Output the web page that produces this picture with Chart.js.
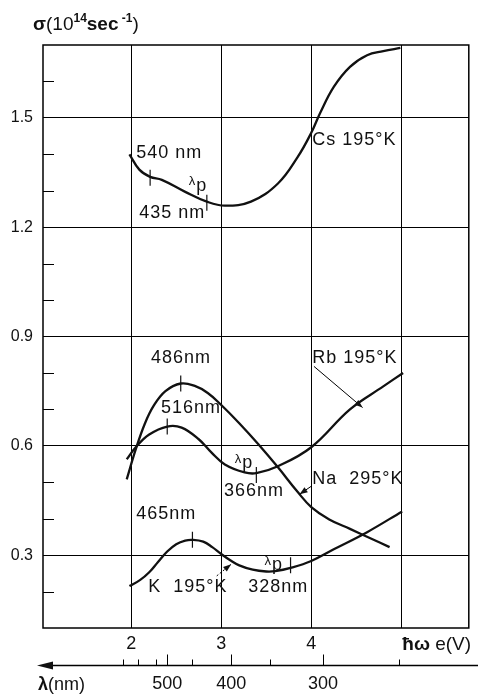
<!DOCTYPE html>
<html>
<head>
<meta charset="utf-8">
<script src="https://cdn.jsdelivr.net/npm/chart.js@4.4.0/dist/chart.umd.min.js"></script>
<style>
    html, body { margin: 0; padding: 0; background: #fff; }
    #wrap { width: 478px; height: 694px; }
</style>
</head>
<body>
<div id="wrap"><canvas id="sigmaChart" width="478" height="694"></canvas></div>
<script>
// photon energy (eV) against sigma (10^14 sec^-1)
const csEnergy = [1.98, 2.09, 2.21, 2.34, 2.60, 2.84, 3.04, 3.33, 3.63, 3.85, 4.00, 4.10, 4.25, 4.43, 4.62, 4.80, 4.99];
const csSigma  = [1.40, 1.358, 1.338, 1.33, 1.297, 1.27, 1.259, 1.27, 1.32, 1.393, 1.459, 1.514, 1.585, 1.64, 1.672, 1.683, 1.692];

const naEnergy = [1.95, 2.05, 2.15, 2.25, 2.38, 2.55, 2.70, 2.85, 3.00, 3.20, 3.41, 3.63, 3.85, 4.00, 4.20, 4.43, 4.65, 4.87];
const naSigma  = [0.508, 0.59, 0.66, 0.71, 0.75, 0.771, 0.765, 0.745, 0.712, 0.662, 0.605, 0.541, 0.473, 0.432, 0.398, 0.372, 0.347, 0.322];

const rbEnergy = [1.95, 2.05, 2.20, 2.40, 2.56, 2.75, 2.89, 3.04, 3.26, 3.39, 3.63, 4.00, 4.43, 4.80, 5.02];
const rbSigma  = [0.563, 0.596, 0.631, 0.653, 0.65, 0.618, 0.582, 0.549, 0.527, 0.525, 0.544, 0.596, 0.70, 0.763, 0.80];

const kEnergy = [1.98, 2.10, 2.20, 2.30, 2.40, 2.50, 2.60, 2.68, 2.80, 2.90, 3.00, 3.10, 3.20, 3.35, 3.50, 3.60, 3.77, 4.00, 4.25, 4.62, 5.01];
const kSigma  = [0.215, 0.232, 0.253, 0.282, 0.31, 0.33, 0.34, 0.342, 0.337, 0.322, 0.303, 0.286, 0.272, 0.26, 0.255, 0.256, 0.265, 0.284, 0.316, 0.363, 0.42];

// short vertical marks on the curves (peaks and lambda_p)
const markEnergy = [2.21, 2.84, 2.55, 2.40, 3.39, 2.68, 3.77];
const markSigma  = [1.336, 1.267, 0.771, 0.653, 0.52, 0.342, 0.272];

// axes
const energyTicks = [2, 3, 4, 5];
const sigmaTicks = [0.3, 0.6, 0.9, 1.2, 1.5];
const sigmaMinor = [0.2, 0.4, 0.5, 0.7, 0.8, 1.0, 1.1, 1.3, 1.4, 1.6];
const lambdaTickNm     = [650, 600, 550, 500, 450, 400, 350, 300, 250];
const lambdaTickEnergy = [1.91, 2.08, 2.27, 2.40, 2.68, 3.11, 3.54, 4.13, 4.97];
const lambdaLabels = [500, 400, 300];

const notes = [
    { text: '540 nm', x: 2.055, y: 1.404 },
    { text: '435 nm', x: 2.09, y: 1.24 },
    { text: 'Cs 195°K', x: 4.01, y: 1.44 },
    { text: '486nm', x: 2.22, y: 0.84 },
    { text: '516nm', x: 2.33, y: 0.705 },
    { text: 'Rb 195°K', x: 4.01, y: 0.842 },
    { text: 'Na  295°K', x: 4.01, y: 0.508 },
    { text: '366nm', x: 3.03, y: 0.475 },
    { text: '465nm', x: 2.055, y: 0.412 },
    { text: 'K  195°K', x: 2.19, y: 0.212 },
    { text: '328nm', x: 3.30, y: 0.212 }
];
const lambdaPNotes = [{ x: 2.64, y: 1.317 }, { x: 3.15, y: 0.555 }, { x: 3.48, y: 0.275 }];
const pointers = [
    { from: [4.03, 0.818], to: [4.57, 0.705], dash: [] },
    { from: [4.0, 0.489], to: [3.87, 0.467], dash: [] },
    { from: [2.95, 0.243], to: [3.11, 0.275], dash: [2, 2] }
];

const FONT = '"Liberation Sans", Arial, sans-serif';

function pts(xs, ys) {
    return xs.map((x, i) => ({ x: x, y: ys[i] }));
}

function curve(xs, ys) {
    return {
        data: pts(xs, ys),
        borderColor: '#111',
        borderWidth: 2.3,
        pointRadius: 0,
        tension: 0.4,
        fill: false
    };
}

function drawArrow(ctx, x1, y1, x2, y2, dash) {
    ctx.save();
    ctx.lineWidth = 1;
    ctx.setLineDash(dash);
    ctx.beginPath();
    ctx.moveTo(x1, y1);
    ctx.lineTo(x2, y2);
    ctx.stroke();
    ctx.setLineDash([]);
    const ang = Math.atan2(y2 - y1, x2 - x1);
    const len = 8, w = 3;
    ctx.beginPath();
    ctx.moveTo(x2, y2);
    ctx.lineTo(x2 - len * Math.cos(ang) + w * Math.sin(ang), y2 - len * Math.sin(ang) - w * Math.cos(ang));
    ctx.lineTo(x2 - len * Math.cos(ang) - w * Math.sin(ang), y2 - len * Math.sin(ang) + w * Math.cos(ang));
    ctx.closePath();
    ctx.fill();
    ctx.restore();
}

// pieces of text drawn one after another: [text, font, raise]
function drawRun(ctx, x, y, parts) {
    parts.forEach(p => {
        ctx.font = p[1];
        ctx.fillText(p[0], x, y - p[2]);
        x += ctx.measureText(p[0]).width;
    });
}

const extras = {
    id: 'extras',
    afterDraw(chart) {
        const { ctx, chartArea: a, scales: { x, y } } = chart;
        ctx.save();
        ctx.strokeStyle = '#000';
        ctx.fillStyle = '#111';

        // frame
        ctx.lineWidth = 1.5;
        ctx.strokeRect(a.left, a.top, a.right - a.left, a.bottom - a.top);

        // minor sigma ticks, inside the frame
        ctx.lineWidth = 1;
        sigmaMinor.forEach(v => {
            const py = Math.round(y.getPixelForValue(v)) + 0.5;
            ctx.beginPath();
            ctx.moveTo(a.left, py);
            ctx.lineTo(a.left + 11, py);
            ctx.stroke();
        });

        // notes
        ctx.textBaseline = 'middle';
        ctx.textAlign = 'left';
        ctx.letterSpacing = '1px';
        ctx.font = '18px ' + FONT;
        notes.forEach(n => ctx.fillText(n.text, x.getPixelForValue(n.x), y.getPixelForValue(n.y)));
        lambdaPNotes.forEach(n => {
            const px = x.getPixelForValue(n.x), py = y.getPixelForValue(n.y);
            ctx.font = '13px ' + FONT;
            ctx.fillText('λ', px, py - 3);
            const w = ctx.measureText('λ').width;
            ctx.font = '18px ' + FONT;
            ctx.fillText('p', px + w, py + 1);
        });
        ctx.letterSpacing = '0px';

        pointers.forEach(p => drawArrow(ctx,
            x.getPixelForValue(p.from[0]), y.getPixelForValue(p.from[1]),
            x.getPixelForValue(p.to[0]), y.getPixelForValue(p.to[1]), p.dash));

        // y title
        ctx.textBaseline = 'alphabetic';
        drawRun(ctx, 33, 30, [
            ['σ', 'bold 19px ' + FONT, 0],
            ['(10', '19px ' + FONT, 0],
            ['14', 'bold 12px ' + FONT, 8],
            ['sec', 'bold 19px ' + FONT, 0],
            [' -1', 'bold 12px ' + FONT, 8],
            [')', '19px ' + FONT, 0]
        ]);

        // energy axis title
        drawRun(ctx, x.getPixelForValue(5) + 1, 650, [
            ['ħω', 'bold 19px ' + FONT, 0],
            [' e(V)', '19px ' + FONT, 0]
        ]);

        // wavelength axis with arrow pointing left
        const ly = 665.5;
        ctx.lineWidth = 1.3;
        ctx.beginPath();
        ctx.moveTo(48, ly);
        ctx.lineTo(478, ly);
        ctx.stroke();
        ctx.beginPath();
        ctx.moveTo(37, ly);
        ctx.lineTo(53, ly - 4);
        ctx.lineTo(53, ly + 4);
        ctx.closePath();
        ctx.fill();
        ctx.lineWidth = 1;
        lambdaTickNm.forEach((nm, i) => {
            const px = Math.round(x.getPixelForValue(lambdaTickEnergy[i])) + 0.5;
            const h = lambdaLabels.includes(nm) ? 11 : 6;
            ctx.beginPath();
            ctx.moveTo(px, ly);
            ctx.lineTo(px, ly - h);
            ctx.stroke();
        });
        ctx.textAlign = 'center';
        ctx.textBaseline = 'middle';
        ctx.font = '18px ' + FONT;
        lambdaTickNm.forEach((nm, i) => {
            if (lambdaLabels.includes(nm)) {
                ctx.fillText(String(nm), x.getPixelForValue(lambdaTickEnergy[i]), 684);
            }
        });
        ctx.textAlign = 'left';
        ctx.textBaseline = 'alphabetic';
        drawRun(ctx, 38, 690, [
            ['λ', 'bold 18px ' + FONT, 0],
            ['(nm)', '18px ' + FONT, 0]
        ]);
        ctx.restore();
    }
};

new Chart(document.getElementById('sigmaChart'), {
    type: 'line',
    data: {
        datasets: [
            curve(csEnergy, csSigma),
            curve(naEnergy, naSigma),
            curve(rbEnergy, rbSigma),
            curve(kEnergy, kSigma),
            {
                data: pts(markEnergy, markSigma),
                showLine: false,
                pointStyle: 'line',
                rotation: 90,
                pointRadius: 8,
                pointBorderWidth: 1.2,
                borderColor: '#111',
                backgroundColor: '#111'
            }
        ]
    },
    options: {
        responsive: false,
        animation: false,
        layout: { padding: { top: 45, right: 5, left: 0, bottom: 0 } },
        plugins: { legend: { display: false }, tooltip: { enabled: false } },
        scales: {
            x: {
                type: 'linear',
                min: 1.02,
                max: 5.75,
                afterBuildTicks: s => { s.ticks = energyTicks.map(v => ({ value: v })); },
                afterFit: s => { s.height = 66; },
                grid: { color: '#000', lineWidth: 1, drawTicks: false },
                border: { display: false },
                ticks: {
                    padding: 5,
                    color: '#111',
                    font: { family: FONT, size: 18 },
                    maxRotation: 0,
                    callback: v => (v === 5 ? '' : String(v))
                }
            },
            y: {
                min: 0.1,
                max: 1.7,
                afterBuildTicks: s => { s.ticks = sigmaTicks.map(v => ({ value: v })); },
                afterFit: s => { s.width = 43; },
                grid: { color: '#000', lineWidth: 1, drawTicks: false },
                border: { display: false },
                ticks: {
                    padding: 10,
                    color: '#111',
                    font: { family: FONT, size: 16 },
                    callback: v => v.toFixed(1)
                }
            }
        }
    },
    plugins: [extras]
});
</script>
</body>
</html>
